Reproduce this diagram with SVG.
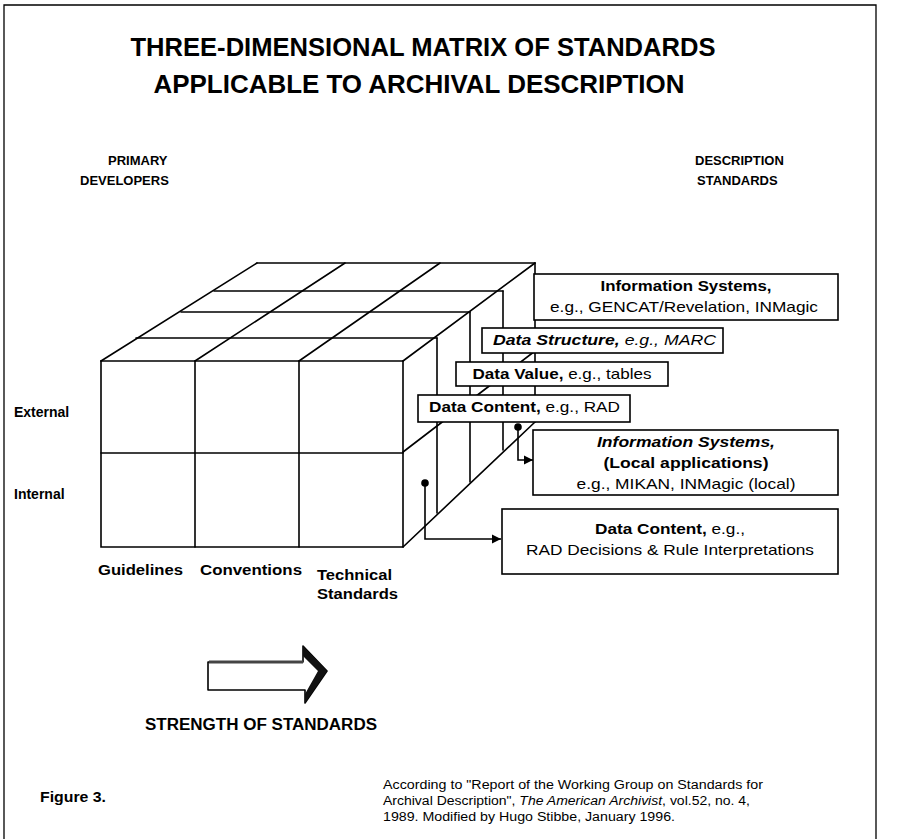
<svg xmlns="http://www.w3.org/2000/svg" width="898" height="839" viewBox="0 0 898 839">
<style>
  text { font-family: "Liberation Sans", Arial, sans-serif; fill: #000; }
  .b { font-weight: bold; }
  .i { font-style: italic; }
  .title { font-size: 25px; font-weight: bold; }
  .hd { font-size: 13px; font-weight: bold; }
  .lbl { font-size: 14px; font-weight: bold; }
  .bx { font-size: 15px; }
  .ft { font-size: 12.5px; }
  .cube line, .cube path { stroke: #000; stroke-width: 1.6; fill: none; stroke-linecap: round; }
  .box { fill: #fff; stroke: #000; stroke-width: 1.6; }
  .frame { stroke: #000; stroke-width: 1.3; fill: none; }
  .conn { stroke: #000; stroke-width: 1.6; fill: none; }
</style>
<defs>
  <marker id="dot" markerUnits="userSpaceOnUse" markerWidth="10" markerHeight="10" refX="5" refY="5" overflow="visible">
    <circle cx="5" cy="5" r="3.8" fill="#000"/>
  </marker>
  <marker id="arrow" markerUnits="userSpaceOnUse" markerWidth="10" markerHeight="10" refX="9" refY="4.5" orient="auto" overflow="visible">
    <path d="M0,0 L9,4.5 L0,9 Z" fill="#000"/>
  </marker>
</defs>
<rect width="898" height="839" fill="#fff"/>
<path class="frame" d="M4,839 V5 H876 V839"/>

<g id="title">
  <text class="title" x="130.5" y="56" textLength="585" lengthAdjust="spacingAndGlyphs">THREE-DIMENSIONAL MATRIX OF STANDARDS</text>
  <text class="title" x="153.5" y="93" textLength="531" lengthAdjust="spacingAndGlyphs">APPLICABLE TO ARCHIVAL DESCRIPTION</text>
</g>

<g id="primary-developers">
  <text class="hd" x="108" y="165">PRIMARY</text>
  <text class="hd" x="80" y="185">DEVELOPERS</text>
</g>
<g id="description-standards">
  <text class="hd" x="695" y="165">DESCRIPTION</text>
  <text class="hd" x="697" y="185">STANDARDS</text>
</g>

<g id="row-labels">
  <text class="lbl" x="14" y="417">External</text>
  <text class="lbl" x="14" y="499">Internal</text>
</g>

<g id="cube" class="cube">
  <!-- top face -->
  <line x1="101" y1="361" x2="403" y2="361"/>
  <line x1="136" y1="338" x2="437" y2="338"/>
  <line x1="181" y1="312" x2="470" y2="312"/>
  <line x1="214" y1="291" x2="503" y2="291"/>
  <line x1="257" y1="263" x2="535" y2="263"/>
  <line x1="257" y1="263" x2="101" y2="361"/>
  <line x1="345" y1="263" x2="195" y2="361"/>
  <line x1="440" y1="263" x2="299" y2="361"/>
  <line x1="535" y1="263" x2="403" y2="361"/>
  <!-- front face -->
  <path d="M101,361 V547 H403 V361"/>
  <line x1="101" y1="453" x2="403" y2="453"/>
  <line x1="195" y1="361" x2="195" y2="547"/>
  <line x1="299" y1="361" x2="299" y2="547"/>
  <!-- right face -->
  <line x1="437" y1="338" x2="437" y2="513"/>
  <line x1="470" y1="312" x2="470" y2="482"/>
  <line x1="503" y1="291" x2="503" y2="450"/>
  <line x1="535" y1="263" x2="535" y2="422"/>
  <line x1="403" y1="452" x2="535" y2="351"/>
  <line x1="403" y1="547" x2="535" y2="422"/>
</g>

<g id="col-labels">
  <text class="lbl" x="98" y="575" textLength="85" lengthAdjust="spacingAndGlyphs">Guidelines</text>
  <text class="lbl" x="200" y="575" textLength="102" lengthAdjust="spacingAndGlyphs">Conventions</text>
  <text class="lbl" x="317" y="580" textLength="75" lengthAdjust="spacingAndGlyphs">Technical</text>
  <text class="lbl" x="317" y="599" textLength="81" lengthAdjust="spacingAndGlyphs">Standards</text>
</g>

<g id="info-systems-external">
  <rect class="box" x="534" y="274" width="304" height="46"/>
  <text class="bx b" x="686" y="291" text-anchor="middle" textLength="171" lengthAdjust="spacingAndGlyphs">Information Systems,</text>
  <text class="bx" x="684" y="312" text-anchor="middle" textLength="268" lengthAdjust="spacingAndGlyphs">e.g., GENCAT/Revelation, INMagic</text>
</g>
<g id="data-structure">
  <rect class="box" x="482" y="328" width="241" height="25"/>
  <text class="bx i" x="604.5" y="345" text-anchor="middle" textLength="223" lengthAdjust="spacingAndGlyphs"><tspan class="b">Data Structure,</tspan> e.g., MARC</text>
</g>
<g id="data-value">
  <rect class="box" x="456" y="362" width="212" height="24"/>
  <text class="bx" x="562" y="378.5" text-anchor="middle" textLength="179" lengthAdjust="spacingAndGlyphs"><tspan class="b">Data Value,</tspan> e.g., tables</text>
</g>
<g id="data-content-external">
  <rect class="box" x="418" y="395" width="212" height="27"/>
  <text class="bx" x="524.5" y="412" text-anchor="middle" textLength="191" lengthAdjust="spacingAndGlyphs"><tspan class="b">Data Content,</tspan> e.g., RAD</text>
</g>
<g id="info-systems-local">
  <rect class="box" x="533" y="430" width="305" height="65"/>
  <text class="bx b i" x="686" y="447" text-anchor="middle" textLength="178" lengthAdjust="spacingAndGlyphs">Information Systems,</text>
  <text class="bx b" x="686" y="468" text-anchor="middle" textLength="165" lengthAdjust="spacingAndGlyphs">(Local applications)</text>
  <text class="bx" x="686" y="488.5" text-anchor="middle" textLength="219" lengthAdjust="spacingAndGlyphs">e.g., MIKAN, INMagic (local)</text>
</g>
<g id="data-content-internal">
  <rect class="box" x="502" y="509" width="336" height="65"/>
  <text class="bx" x="670" y="533.5" text-anchor="middle" textLength="150" lengthAdjust="spacingAndGlyphs"><tspan class="b">Data Content,</tspan> e.g.,</text>
  <text class="bx" x="670" y="555" text-anchor="middle" textLength="288" lengthAdjust="spacingAndGlyphs">RAD Decisions &amp; Rule Interpretations</text>
</g>

<g id="connectors">
  <path class="conn" d="M518,427 V460 H533" marker-start="url(#dot)" marker-end="url(#arrow)"/>
  <path class="conn" d="M425,483 V539 H501" marker-start="url(#dot)" marker-end="url(#arrow)"/>
</g>

<g id="strength-arrow">
  <path d="M208,662 H303 V646 L327,671 L305,703 V690 H208 Z" fill="#fff" stroke="#000" stroke-width="1.6" stroke-linejoin="round"/>
  <path d="M303,646 L327,671 L305,703 L305,694 L318,671 L303,656 Z" fill="#111"/>
  <rect x="209" y="660.5" width="94" height="3" fill="#444"/>
  <text class="lbl" x="145" y="730" textLength="232" lengthAdjust="spacingAndGlyphs" style="font-size:16px">STRENGTH OF STANDARDS</text>
</g>

<g id="footer">
  <text class="b" x="40" y="802" style="font-size:14px" textLength="66" lengthAdjust="spacingAndGlyphs">Figure 3.</text>
  <text class="ft" x="383" y="789" textLength="380" lengthAdjust="spacingAndGlyphs">According to "Report of the Working Group on Standards for</text>
  <text class="ft" x="383" y="805" textLength="367" lengthAdjust="spacingAndGlyphs">Archival Description", <tspan class="i">The American Archivist</tspan>, vol.52, no. 4,</text>
  <text class="ft" x="383" y="821" textLength="292" lengthAdjust="spacingAndGlyphs">1989. Modified by Hugo Stibbe, January 1996.</text>
</g>
</svg>
